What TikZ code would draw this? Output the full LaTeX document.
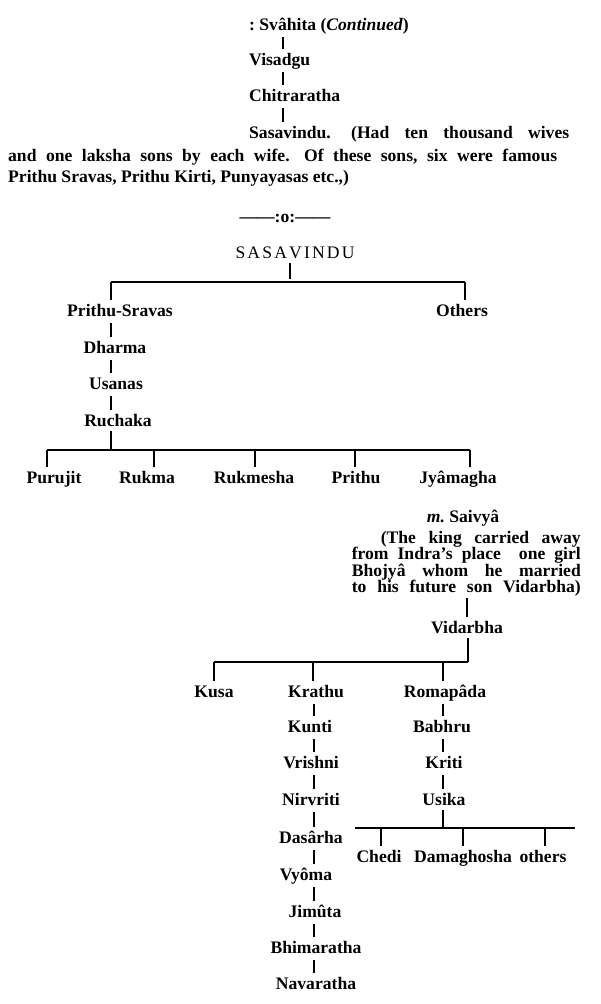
\documentclass[tikz,border=0pt]{standalone}
\usepackage{fontspec}
\setmainfont{Liberation Serif}
\frenchspacing
\begin{document}
\begin{tikzpicture}[x=1pt,y=-1pt,
  lbl/.style={font=\bfseries\fontsize{17.6}{18}\selectfont, inner sep=1pt, text height=12pt, text depth=4pt, anchor=base},
  ptext/.style={font=\bfseries\fontsize{17.6}{18}\selectfont, inner sep=0pt, text height=11pt, text depth=3pt},
  plain/.style={font=\fontsize{17.6}{18}\selectfont, inner sep=1pt, text height=12pt, text depth=4pt, anchor=base},
  chain/.style={line width=1.5pt, shorten <=2pt, shorten >=3pt},
  drop/.style={line width=1.5pt, shorten >=3pt},
  bus/.style={line width=1.5pt}]
\useasboundingbox (0,0) rectangle (600,1004);
\fill[white] (0,0) rectangle (600,1004);

% ---------- top column ----------
\coordinate (cTop) at (283,0);
\node[lbl, anchor=base west] (svahita) at (248,30) {: Svâhita (\textit{Continued})};
\node[lbl, anchor=base west] (visadgu) at (248,65) {Visadgu};
\node[lbl, anchor=base west] (chitra) at (248,101) {Chitraratha};
\node[lbl, anchor=base west] (sasavindu) at (248,138) {\makebox[320pt][s]{Sasavindu.\hspace{5pt} (Had ten thousand wives}};
\node[ptext, anchor=base west] (para2) at (8,161) {\makebox[549pt][s]{and one laksha sons by each wife.\hspace{5pt} Of these sons, six were famous}};
\node[ptext, anchor=base west] (para3) at (8,182) {Prithu Sravas, Prithu Kirti, Punyayasas etc.,)};
\draw[chain] (svahita.south -| cTop) -- (visadgu.north -| cTop);
\draw[chain] (visadgu.south -| cTop) -- (chitra.north -| cTop);
\draw[chain] (chitra.south -| cTop) -- (sasavindu.north -| cTop);

\node[lbl] (sep) at (285,222) {——:o:——};

% ---------- Sasavindu tree ----------
\node[plain] (root) at (295,258) {\makebox[119pt][s]{S\hfil A\hfil S\hfil A\hfil V\hfil I\hfil N\hfil D\hfil U}};
\coordinate (j1) at (290,282);
\coordinate (colA) at (111,282);
\coordinate (colO) at (465,282);
\node[lbl] (ps) at (120,316) {Prithu-Sravas};
\node[lbl] (others) at (462,316) {Others};
\node[lbl] (dharma) at (115,353) {Dharma};
\node[lbl] (usanas) at (116,389) {Usanas};
\node[lbl] (ruchaka) at (118,426) {Ruchaka};
\draw[drop] (root.south -| j1) -- (j1);
\draw[bus] (colA) -- (colO);
\draw[drop] (colA) -- (ps.north -| colA);
\draw[drop] (colO) -- (others.north -| colO);
\draw[chain] (ps.south -| colA) -- (dharma.north -| colA);
\draw[chain] (dharma.south -| colA) -- (usanas.north -| colA);
\draw[chain] (usanas.south -| colA) -- (ruchaka.north -| colA);

\coordinate (j2) at (111,450);
\coordinate (b1) at (47,450);
\coordinate (b2) at (154,450);
\coordinate (b3) at (255,450);
\coordinate (b4) at (355,450);
\coordinate (b5) at (470,450);
\node[lbl] (purujit) at (54,483) {Purujit};
\node[lbl] (rukma) at (147,483) {Rukma};
\node[lbl] (rukmesha) at (254,483) {Rukmesha};
\node[lbl] (prithu) at (356,483) {Prithu};
\node[lbl] (jyamagha) at (458,483) {Jyâmagha};
\draw[bus] (ruchaka.south -| j2) -- (j2);
\draw[bus] (b1) -- (b5);
\draw[drop] (b1) -- (purujit.north -| b1);
\draw[drop] (b2) -- (rukma.north -| b2);
\draw[drop] (b3) -- (rukmesha.north -| b3);
\draw[drop] (b4) -- (prithu.north -| b4);
\draw[drop] (b5) -- (jyamagha.north -| b5);

% ---------- Jyamagha's line ----------
\node[lbl] (saivya) at (463,522) {\textit{m.} Saivyâ};
\node[ptext, anchor=base east] (pl1) at (581,543) {\makebox[200pt][s]{(The king carried away}};
\node[ptext, anchor=base east] (pl2) at (581,559.5) {\makebox[229pt][s]{from Indra's place \ one girl}};
\node[ptext, anchor=base east] (pl3) at (581,576) {\makebox[229pt][s]{Bhojyâ whom he married}};
\node[ptext, anchor=base east] (pl4) at (581,592.5) {\makebox[229pt][s]{to his future son Vidarbha)}};
\coordinate (colV) at (467,0);
\node[lbl] (vidarbha) at (467,633) {Vidarbha};
\draw[chain] (pl4.south -| colV) -- (vidarbha.north -| colV);

\coordinate (j3) at (468,662);
\coordinate (k1) at (214,662);
\coordinate (k2) at (313,662);
\coordinate (k3) at (443,662);
\node[lbl] (kusa) at (214,697) {Kusa};
\node[lbl] (krathu) at (316,697) {Krathu};
\node[lbl] (romapada) at (445,697) {Romapâda};
\draw[bus] (vidarbha.south -| j3) -- (j3);
\draw[bus] (j3) -- (k1);
\draw[drop] (k1) -- (kusa.north -| k1);
\draw[drop] (k2) -- (krathu.north -| k2);
\draw[drop] (k3) -- (romapada.north -| k3);

% Krathu chain
\coordinate (colK) at (314,0);
\node[lbl] (kunti) at (310,732) {Kunti};
\node[lbl] (vrishni) at (311,768) {Vrishni};
\node[lbl] (nirvriti) at (311,805) {Nirvriti};
\node[lbl] (dasarha) at (311,843) {Dasârha};
\node[lbl] (vyoma) at (306,880) {Vyôma};
\node[lbl] (jimuta) at (315,917) {Jimûta};
\node[lbl] (bhima) at (316,953) {Bhimaratha};
\node[lbl] (nava) at (316,989) {Navaratha};
\draw[chain] (krathu.south -| colK) -- (kunti.north -| colK);
\draw[chain] (kunti.south -| colK) -- (vrishni.north -| colK);
\draw[chain] (vrishni.south -| colK) -- (nirvriti.north -| colK);
\draw[chain] (nirvriti.south -| colK) -- (dasarha.north -| colK);
\draw[chain] (dasarha.south -| colK) -- (vyoma.north -| colK);
\draw[chain] (vyoma.south -| colK) -- (jimuta.north -| colK);
\draw[chain] (jimuta.south -| colK) -- (bhima.north -| colK);
\draw[chain] (bhima.south -| colK) -- (nava.north -| colK);

% Romapada chain
\coordinate (colR) at (443,0);
\node[lbl] (babhru) at (442,732) {Babhru};
\node[lbl] (kriti) at (444,768) {Kriti};
\node[lbl] (usika) at (444,805) {Usika};
\draw[chain] (romapada.south -| colR) -- (babhru.north -| colR);
\draw[chain] (babhru.south -| colR) -- (kriti.north -| colR);
\draw[chain] (kriti.south -| colR) -- (usika.north -| colR);

\coordinate (j4) at (443,828);
\coordinate (m0) at (355,828);
\coordinate (m1) at (381,828);
\coordinate (m2) at (463,828);
\coordinate (m3) at (545,828);
\coordinate (m4) at (575,828);
\node[lbl] (chedi) at (379,862) {Chedi};
\node[lbl] (damaghosha) at (463,862) {Damaghosha};
\node[lbl] (others2) at (543,862) {others};
\draw[bus] (usika.south -| j4) -- (j4);
\draw[bus] (m0) -- (m4);
\draw[drop] (m1) -- (chedi.north -| m1);
\draw[drop] (m2) -- (damaghosha.north -| m2);
\draw[drop] (m3) -- (others2.north -| m3);
\end{tikzpicture}
\end{document}
